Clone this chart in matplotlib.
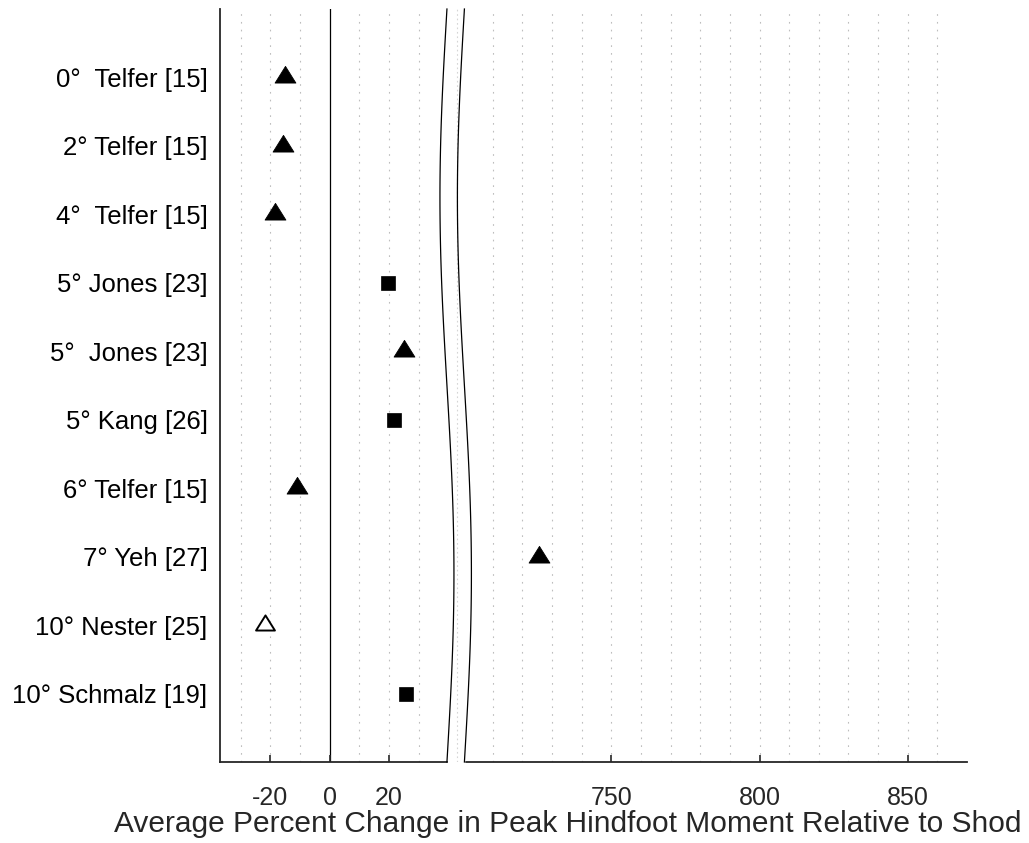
import numpy as np
import matplotlib.pyplot as plt
from matplotlib.path import Path

plt.rcParams['font.family'] = ['Liberation Sans', 'DejaVu Sans']
plt.rcParams['path.simplify'] = False

labels = ["0°  Telfer [15]", "2° Telfer [15]", "4°  Telfer [15]", "5° Jones [23]",
          "5°  Jones [23]", "5° Kang [26]", "6° Telfer [15]", "7° Yeh [27]",
          "10° Nester [25]", "10° Schmalz [19]"]
values = [-15.2, -15.8, -18.5, 19.8, 25.1, 21.8, -11.1, 725.5, -21.9, 25.8]
kinds = ["tri", "tri", "tri", "sq", "tri", "sq", "tri", "tri", "open", "sq"]

tick_vals = [-20, 0, 20, 750, 800, 850]
grid_vals = [-30, -20, -10, 10, 20, 30] + list(range(710, 870, 10))


# broken x axis: 40..700 squeezed into a small gap
def fwd(x):
    x = np.asarray(x, float)
    return np.where(x <= 40, x, np.where(x >= 700, x - 655, 40 + (x - 40) * 5 / 660))


def inv(y):
    y = np.asarray(y, float)
    return np.where(y <= 40, y, np.where(y >= 45, y + 655, 40 + (y - 40) * 132))


tri_pts = [(-1, -0.533), (1, -0.533), (0, 1.067)]
tri = Path(tri_pts + [tri_pts[0]], closed=True)
dark = '#262626'

fig = plt.figure(figsize=(10.29, 8.43), dpi=100)
ax = fig.add_axes([220 / 1029, 1 - 762 / 843, 747 / 1029, 753 / 843])
ax.set_xscale('function', functions=(fwd, inv))

for g in grid_vals:
    ax.axvline(g, color='#bdbdbd', lw=0.8, ls=(0, (1.5, 5.5)), zorder=1)
ax.axvline(0, color='black', lw=0.9, zorder=1.5)

ypos = np.arange(1, len(labels) + 1)
for v, y, k in zip(values, ypos, kinds):
    if k == "tri":
        ax.plot(v, y, marker=tri, ms=16, mfc='black', mec='black', mew=0.6, ls='none', zorder=4)
    elif k == "open":
        ax.plot(v, y, marker=tri, ms=14.5, mfc='white', mec='black', mew=1.4, ls='none', zorder=4)
    else:
        ax.plot(v, y, marker='s', ms=9.8, mfc='black', mec='black', mew=0.5, ls='none', zorder=4)

# break marks (wavy band)
t = np.linspace(0, 1, 300)
wave = 2.36 * np.sin(2 * np.pi * t)
left_curve = inv(39.56 - wave)
right_curve = inv(45.45 - wave)
xt = ax.get_xaxis_transform()
ax.fill_betweenx(1 - t * 1.008, left_curve, right_curve, color='white', lw=0,
                 transform=xt, zorder=3, clip_on=False)
ax.plot([inv(42.8), inv(42.8)], [0, 1], color='#d5d5d5', lw=0.8, ls=(0, (1.5, 2.5)),
        transform=xt, zorder=3.2)
ax.plot(left_curve, 1 - t, color='black', lw=0.9, transform=xt, zorder=3.5, clip_on=False)
ax.plot(right_curve, 1 - t, color='black', lw=0.9, transform=xt, zorder=3.5, clip_on=False)

ax.set_xlim(-37, 870)
ax.set_ylim(11, 0)
ax.set_xticks(tick_vals)
ax.set_xticklabels([str(v) for v in tick_vals])
ax.set_yticks(ypos)
ax.set_yticklabels(labels)

for s in ['top', 'right']:
    ax.spines[s].set_visible(False)
for s in ['left', 'bottom']:
    ax.spines[s].set_color(dark)
    ax.spines[s].set_linewidth(1.3)
    ax.spines[s].set_zorder(2.5)

ax.tick_params(axis='x', direction='in', length=5, width=1.2, color=dark,
               labelsize=18, labelcolor=dark, pad=17)
ax.tick_params(axis='y', length=0, labelsize=18.5, labelcolor='black', pad=9)

ax.set_xlabel("Average Percent Change in Peak Hindfoot Moment Relative to Shod",
              fontsize=21.5, color=dark, va='center')
ax.xaxis.set_label_coords(0.465, -0.083)

fig.savefig('out.png', dpi=100)
